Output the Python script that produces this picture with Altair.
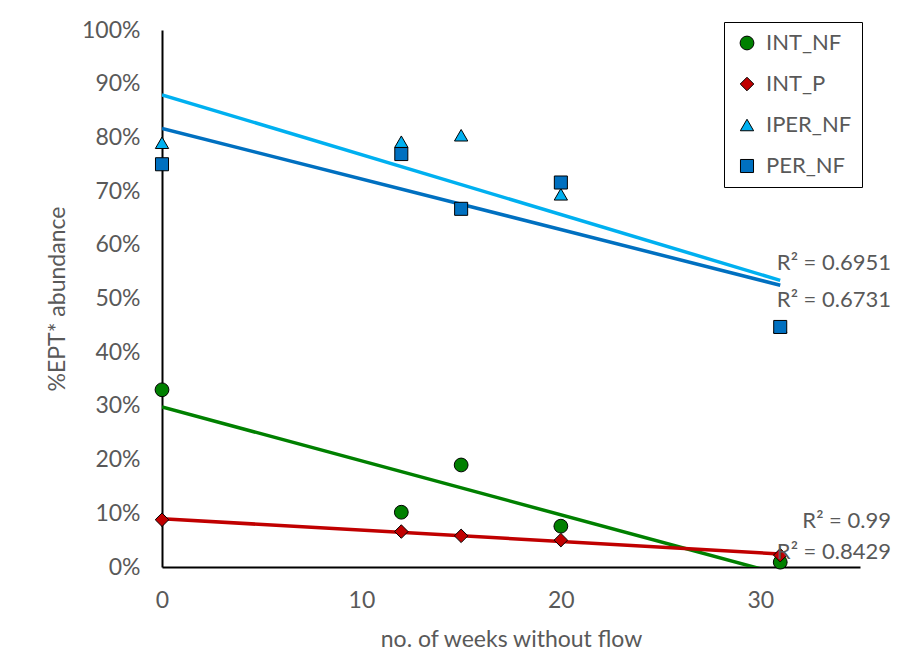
import altair as alt
import pandas as pd

series = ["INT_NF", "INT_P", "IPER_NF", "PER_NF"]
weeks = [0, 12, 15, 20, 31]
int_nf = [0.330, 0.102, 0.190, 0.076, 0.009]
int_p = [0.088, 0.066, 0.058, 0.050, 0.022]
iper_nf = [0.790, 0.792, 0.804, 0.694, 0.447]
per_nf = [0.750, 0.769, 0.667, 0.716, 0.447]

colors = ["#008000", "#C00000", "#00B0F0", "#0070C0"]
shapes = ["circle", "diamond", "triangle-up", "square"]
sizes = [190, 170, 140, 165]

r2_text = ["R² = 0.8429", "R² = 0.99", "R² = 0.6951", "R² = 0.6731"]
r2_y = [0.028, 0.086, 0.566, 0.497]

rows = []
for name, vals in zip(series, [int_nf, int_p, iper_nf, per_nf]):
    for w, v in zip(weeks, vals):
        rows.append({"series": name, "trend": name, "x": w, "y": v})
df = pd.DataFrame(rows)
lab = pd.DataFrame({"text": r2_text, "y": r2_y, "x": [35] * 4})

FONT = "Lato"
GREY = "#595959"

xs = alt.X("x:Q", scale=alt.Scale(domain=[0, 35], nice=False),
           axis=alt.Axis(values=[0, 10, 20, 30], title="no. of weeks without flow",
                         grid=False, ticks=False, labelPadding=22, titlePadding=16,
                         labelFlush=False,
                         domainColor="black", domainWidth=2))
ys = alt.Y("y:Q", scale=alt.Scale(domain=[0, 1], nice=False),
           axis=alt.Axis(values=[i / 10 for i in range(11)], format=".0%",
                         title="%EPT* abundance", grid=False, ticks=False,
                         labelPadding=22, titlePadding=12, labelFlush=False,
                         domainColor="black", domainWidth=2))

lines = alt.Chart(df).transform_regression(
    "x", "y", groupby=["trend"]
).mark_line(strokeWidth=3.5, clip=True).encode(
    x=xs, y=ys,
    stroke=alt.Stroke("trend:N", scale=alt.Scale(domain=series, range=colors), legend=None),
)

points = alt.Chart(df).mark_point(filled=True, stroke="black", strokeWidth=1, opacity=1).encode(
    x=xs, y=ys,
    color=alt.Color("series:N", scale=alt.Scale(domain=series, range=colors),
                    legend=alt.Legend(title=None, orient="none", legendX=562, legendY=-8)),
    shape=alt.Shape("series:N", scale=alt.Scale(domain=series, range=shapes)),
    size=alt.Size("series:N", scale=alt.Scale(domain=series, range=sizes)),
)

labels = alt.Chart(lab).mark_text(align="right", baseline="middle", dx=31,
                                  font=FONT, fontSize=22, color=GREY).encode(
    x=alt.X("x:Q"), y=alt.Y("y:Q"), text="text:N"
)

chart = alt.layer(lines, points, labels).resolve_legend(
    stroke="independent"
).properties(
    width=698, height=537,
    autosize=alt.AutoSizeParams(type="none"),
    padding={"left": 154, "top": 22, "right": 35, "bottom": 93},
).configure_view(stroke=None).configure_axis(
    labelFont=FONT, labelFontSize=23, labelColor=GREY,
    titleFont=FONT, titleFontSize=23, titleColor=GREY, titleFontWeight="normal",
).configure_legend(
    labelFont=FONT, labelFontSize=22, labelColor=GREY,
    strokeColor="black", fillColor="white", padding=10,
    rowPadding=19, symbolOffset=2, labelOffset=8,
    symbolStrokeColor="black", symbolStrokeWidth=1,
)

chart.save("out.html", embed_options={"renderer": "svg", "actions": False})
